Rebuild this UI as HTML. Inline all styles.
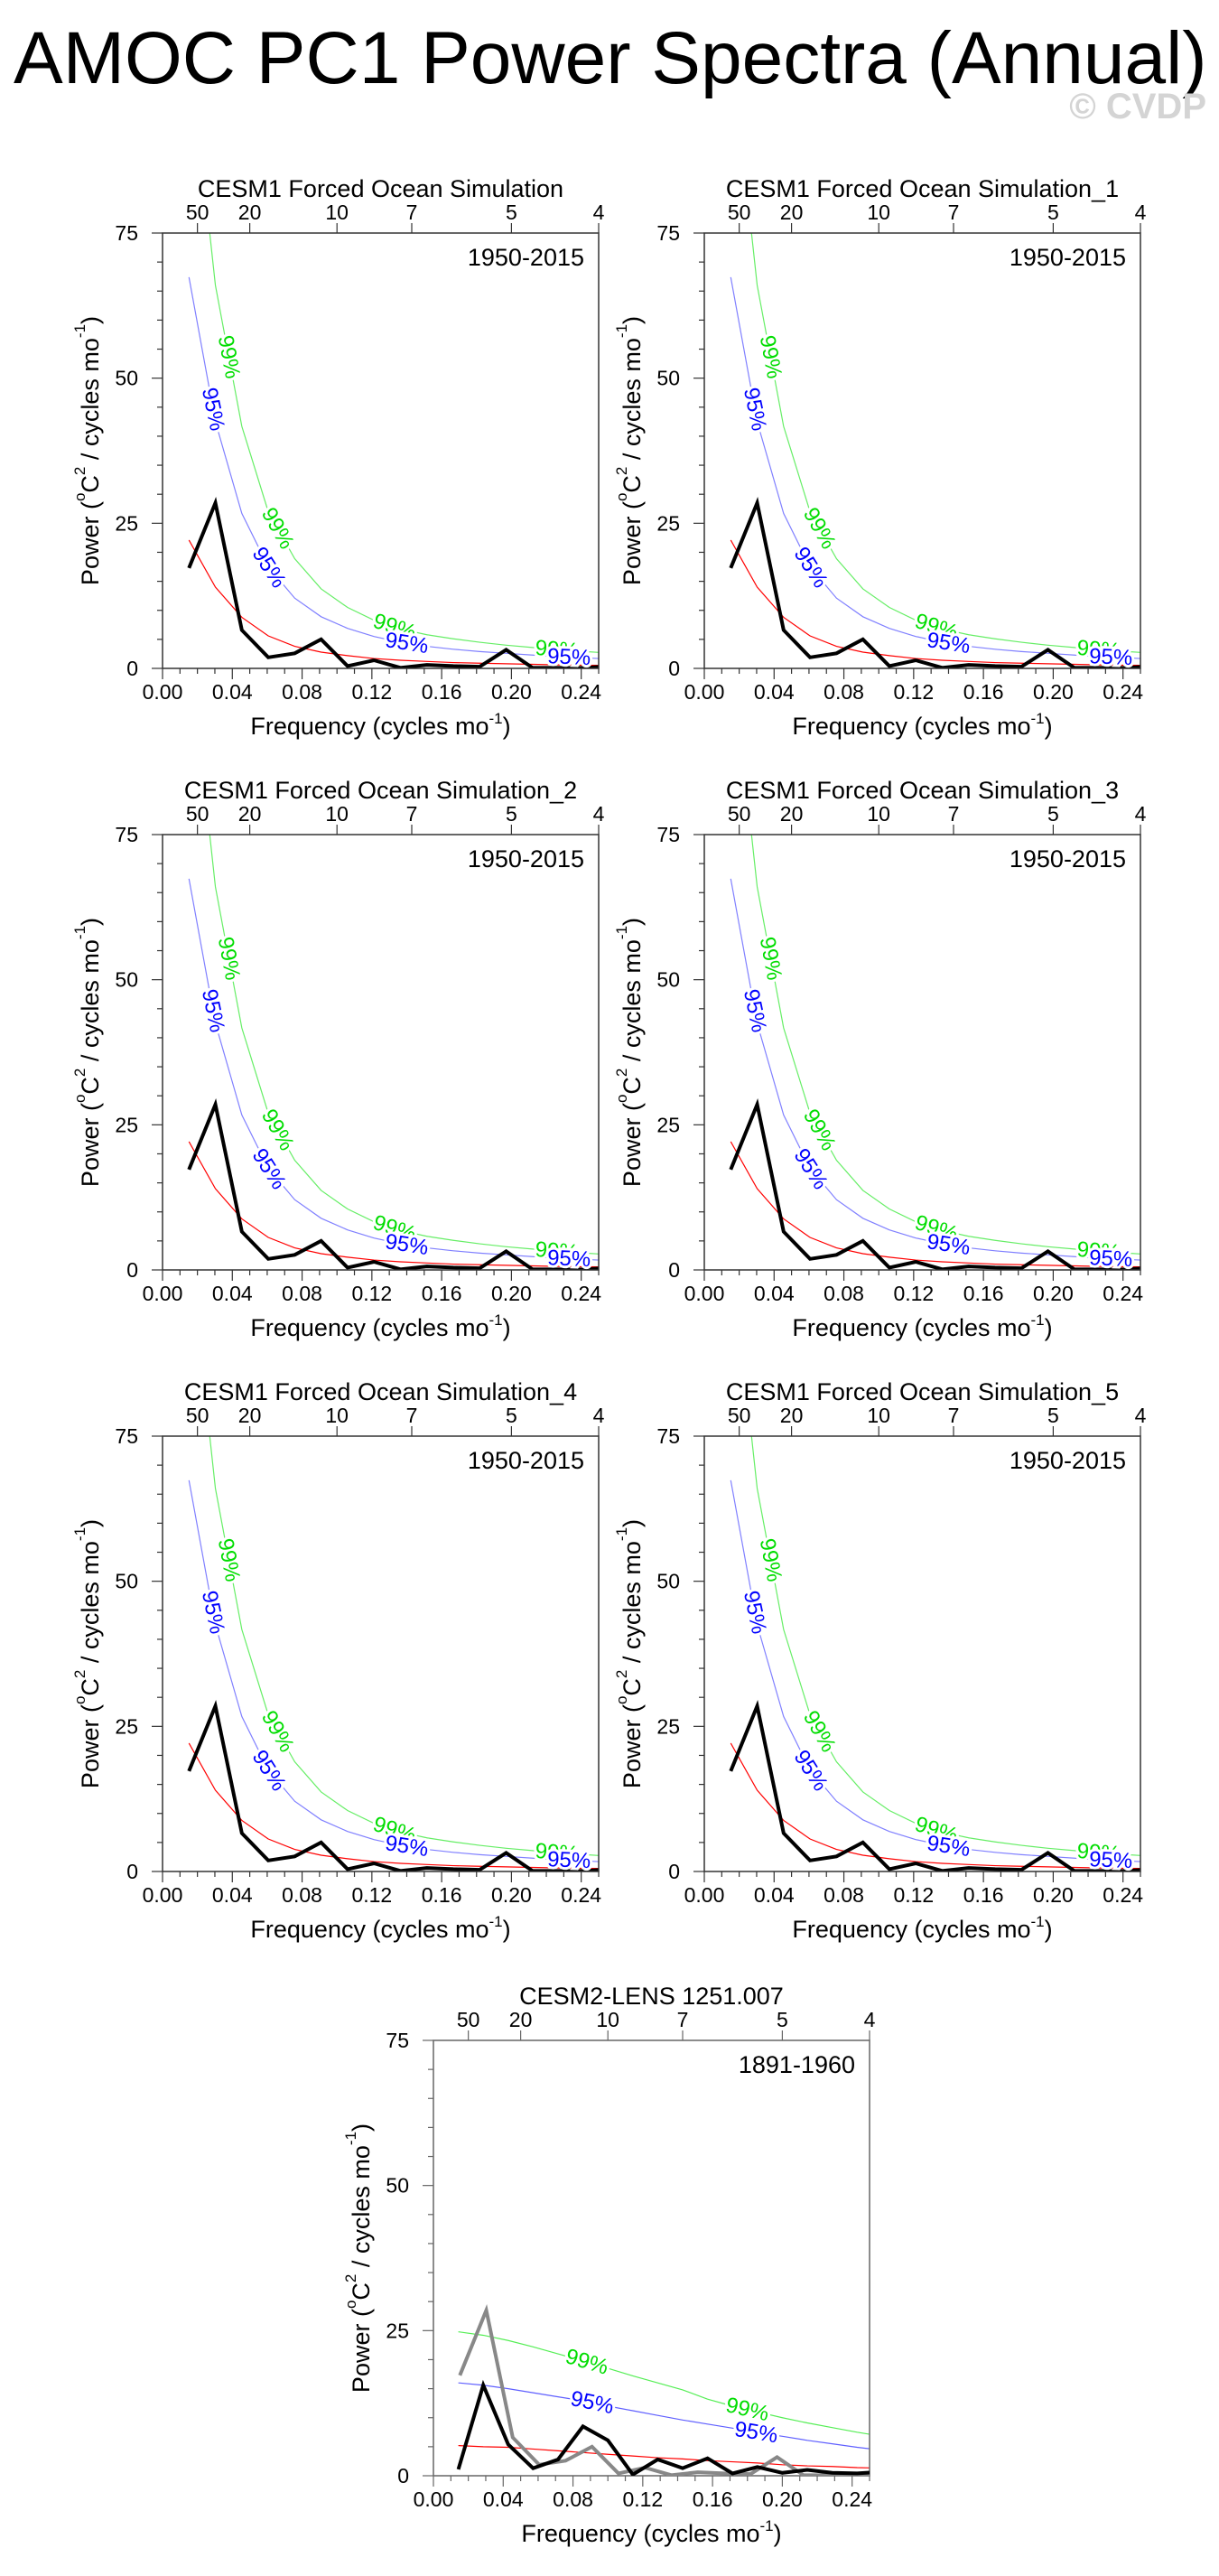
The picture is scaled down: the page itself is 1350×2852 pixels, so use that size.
<!DOCTYPE html>
<html><head><meta charset="utf-8"><style>
html,body{margin:0;padding:0;background:#fff;}
svg{display:block;font-family:"Liberation Sans",Arial,sans-serif;}
</style></head><body>
<svg id="root" width="1350" height="2852" viewBox="0 0 1350 2852">
<text x="15" y="92" font-size="82" fill="#000">AMOC PC1 Power Spectra (Annual)</text>
<text x="1336" y="131" font-size="40" font-weight="bold" fill="#d4d4d4" text-anchor="end">© CVDP</text>
</svg>
<script>
// ---- data ----
const obsFreq = [0.01515,0.0303,0.04545,0.0606,0.07576,0.0909,0.10606,0.12121,0.13636,0.15152,0.16667,0.18182,0.19697,0.21212,0.22727,0.24242,0.25758];
const obsPower = [17.3,28.5,6.6,1.9,2.6,5.0,0.4,1.4,0.1,0.6,0.4,0.3,3.2,0.1,0.1,0.1,0.4];
const obsRed = [22.1,14.0,8.8,5.6,3.8,2.8,2.2,1.7,1.4,1.2,1.0,0.9,0.8,0.7,0.6,0.55,0.5];
const obs95 = [67.4,42.5,26.7,17.5,12.1,8.9,6.9,5.5,4.5,3.8,3.3,2.9,2.6,2.3,2.0,1.8,1.6];
const obs99 = [108,66,41.7,27,18.9,13.7,10.5,8.3,6.8,5.8,5.1,4.5,4.0,3.6,3.2,2.9,2.6];
const lensFreq = [0.01429,0.02857,0.04286,0.05714,0.07143,0.08571,0.1,0.11429,0.12857,0.14286,0.15714,0.17143,0.18571,0.2,0.21429,0.22857,0.24286,0.25714];
const lensPower = [1.1,15.6,5.4,1.3,2.8,8.5,6.1,0.2,2.8,1.3,3.0,0.4,1.5,0.5,1.0,0.5,0.4,0.7];
const lensRed = [5.2,5.0,4.9,4.6,4.3,4.0,3.7,3.4,3.1,2.9,2.6,2.4,2.2,1.9,1.7,1.6,1.4,1.3];
const lens95 = [16.0,15.6,15.0,14.3,13.6,12.9,12.0,11.2,10.4,9.6,8.9,8.2,7.4,6.8,6.1,5.5,4.9,4.4];
const lens99 = [24.8,24.2,23.3,22.2,21.0,19.8,18.5,17.2,16.0,14.8,13.2,12.0,11.0,10.0,9.1,8.3,7.5,6.8];
const xTicks = [0,0.04,0.08,0.12,0.16,0.20,0.24];
const xTickLabels = ["0.00","0.04","0.08","0.12","0.16","0.20","0.24"];
const yTicks = [0,25,50,75];
const yTickLabels = ["0","25","50","75"];
const periods = [50,20,10,7,5,4];
const panelTitles = ["CESM1 Forced Ocean Simulation","CESM1 Forced Ocean Simulation_1","CESM1 Forced Ocean Simulation_2","CESM1 Forced Ocean Simulation_3","CESM1 Forced Ocean Simulation_4","CESM1 Forced Ocean Simulation_5","CESM2-LENS 1251.007"];
const panelYears = ["1950-2015","1950-2015","1950-2015","1950-2015","1950-2015","1950-2015","1891-1960"];
const obsLabelFreqs99 = [0.038,0.066,0.133,0.226];
const obsLabelFreqs95 = [0.029,0.061,0.140,0.233];
const lensLabelFreqs99 = [0.088,0.180];
const lensLabelFreqs95 = [0.091,0.185];

const NS = "http://www.w3.org/2000/svg";
const root = document.getElementById('root');
const W = 483, H = 482, XMAX = 0.25, YMAX = 75;
function mk(tag, attrs, parent){const e=document.createElementNS(NS,tag);for(const k in attrs)e.setAttribute(k,attrs[k]);(parent||root).appendChild(e);return e;}
function interp(fr, vals, f){for(let i=0;i<fr.length-1;i++){if(f>=fr[i]&&f<=fr[i+1]){const t=(f-fr[i])/(fr[i+1]-fr[i]);return vals[i]+t*(vals[i+1]-vals[i]);}}return vals[0];}

function drawPanel(idx, L, T, freq, series, labels, axisColor){
  const g = mk('g',{});
  
  
  const sx = f => L + f/XMAX*W;
  const sy = v => T + H - v/YMAX*H;
  const clipId='clip'+idx;
  const cp = mk('clipPath',{id:clipId},g); mk('rect',{x:L,y:T,width:W,height:H},cp);
  const tt = mk('text',{x:L+W/2,y:T-40,'font-size':27,'text-anchor':'middle',fill:'#000'},g);
  tt.textContent = panelTitles[idx];
  
  
  const cg = mk('g',{'clip-path':'url(#'+clipId+')'},g);
  series.forEach(s=>{
    let d=''; s.vals.forEach((v,i)=>{d+=(i?'L':'M')+sx(freq[i]).toFixed(2)+','+sy(v).toFixed(2);});
    const p = mk('path',{d:d,fill:'none',stroke:s.color,'stroke-width':s.w,'stroke-linejoin':'miter'},cg);
    
    
  });
  labels.forEach(lb=>{
    const v = interp(freq, lb.vals, lb.f);
    const df = 0.004;
    const x1=sx(lb.f-df), y1=sy(interp(freq,lb.vals,lb.f-df)), x2=sx(lb.f+df), y2=sy(interp(freq,lb.vals,lb.f+df));
    const ang = Math.atan2(y2-y1,x2-x1)*180/Math.PI;
    const x=sx(lb.f), y=sy(v);
    const t = mk('text',{x:x,y:y,'font-size':24,'text-anchor':'middle','dominant-baseline':'central',fill:lb.color,stroke:'#fff','stroke-width':6,'paint-order':'stroke',transform:'rotate('+ang.toFixed(1)+' '+x.toFixed(1)+' '+y.toFixed(1)+')'},g);
    t.textContent = lb.text;
    
    
  });
  const fr = mk('rect',{x:L,y:T,width:W,height:H,fill:'none',stroke:axisColor,'stroke-width':1.5},g);
  
  
  for(let m=0;m<=25;m++){const f=m/100;const isMaj=(m%4===0);mk('line',{x1:sx(f),x2:sx(f),y1:T+H,y2:T+H+(isMaj?12:6),stroke:axisColor,'stroke-width':1.2},g);}
  xTicks.forEach((f,i)=>{const t=mk('text',{x:sx(f),y:T+H+34,'font-size':23,'text-anchor':'middle',fill:'#000'},g);t.textContent=xTickLabels[i];});
  for(let v=0;v<=75;v+=5){const isMaj=(v%25===0);mk('line',{x1:L-(isMaj?12:6),x2:L,y1:sy(v),y2:sy(v),stroke:axisColor,'stroke-width':1.2},g);}
  yTicks.forEach((v,i)=>{const t=mk('text',{x:L-27,y:sy(v)+8,'font-size':23,'text-anchor':'end',fill:'#000'},g);t.textContent=yTickLabels[i];});
  periods.forEach(p=>{const f=1/p;mk('line',{x1:sx(f),x2:sx(f),y1:T,y2:T-11,stroke:axisColor,'stroke-width':1.2},g);
    const t=mk('text',{x:sx(f),y:T-15,'font-size':23,'text-anchor':'middle',fill:'#000'},g);t.textContent=String(p);});
  const yr=mk('text',{x:L+467,y:T+36,'font-size':27,'text-anchor':'end',fill:'#000'},g);yr.textContent=panelYears[idx];
  
  
  const xt=mk('text',{x:L+W/2,y:T+H+73,'font-size':27,'text-anchor':'middle',fill:'#000'},g);
  xt.innerHTML='Frequency (cycles mo<tspan font-size="17" dy="-12">-1</tspan><tspan dy="12">)</tspan>';
  
  
  const cx=L-80, cy=T+H/2;
  const yt=mk('text',{x:cx,y:cy,'font-size':27,'text-anchor':'middle','dominant-baseline':'central',fill:'#000',transform:'rotate(-90 '+cx+' '+cy+')'},g);
  yt.innerHTML='Power (<tspan font-size="17" dy="-12">o</tspan><tspan dy="12">C</tspan><tspan font-size="17" dy="-12">2</tspan><tspan dy="12"> / cycles mo</tspan><tspan font-size="17" dy="-12">-1</tspan><tspan dy="12">)</tspan>';
  
  
}

const obsSeries = [
  {name:'red-noise-line',vals:obsRed,color:'#ff0000',w:1.2},
  {name:'95-percent-line',vals:obs95,color:'#8080ff',w:1.2},
  {name:'99-percent-line',vals:obs99,color:'#66ee66',w:1.2},
  {name:'power-spectrum-line',vals:obsPower,color:'#000',w:4}
];
const obsLabels = [];
obsLabelFreqs99.forEach(f=>obsLabels.push({f:f,vals:obs99,text:'99%',color:'#00dd00'}));
obsLabelFreqs95.forEach(f=>obsLabels.push({f:f,vals:obs95,text:'95%',color:'#0000ff'}));
const positions = [[180,258],[780,258],[180,924],[780,924],[180,1590],[780,1590]];
positions.forEach((p,i)=>drawPanel(i,p[0],p[1],obsFreq,obsSeries,obsLabels,'#333'));

(function(){
  const L=480,T=2259;
  const lensSeries=[
    {name:'red-noise-line',vals:lensRed,color:'#ff0000',w:1.2},
    {name:'95-percent-line',vals:lens95,color:'#6060ff',w:1.2},
    {name:'99-percent-line',vals:lens99,color:'#55ee55',w:1.2}
  ];
  const lensLabels=[];
  lensLabelFreqs99.forEach(f=>lensLabels.push({f:f,vals:lens99,text:'99%',color:'#00dd00'}));
  lensLabelFreqs95.forEach(f=>lensLabels.push({f:f,vals:lens95,text:'95%',color:'#0000ff'}));
  drawPanel(6,L,T,lensFreq,lensSeries,lensLabels,'#666');
  const sx=f=>L+f/XMAX*W, sy=v=>T+H-v/YMAX*H;
  let d='';obsPower.forEach((v,i)=>{d+=(i?'L':'M')+sx(obsFreq[i]).toFixed(2)+','+sy(v).toFixed(2);});
  const gp=mk('path',{d:d,fill:'none',stroke:'#888','stroke-width':4,'clip-path':'url(#clip6)'});
  
  
  let d2='';lensPower.forEach((v,i)=>{d2+=(i?'L':'M')+sx(lensFreq[i]).toFixed(2)+','+sy(v).toFixed(2);});
  const bp=mk('path',{d:d2,fill:'none',stroke:'#000','stroke-width':4,'clip-path':'url(#clip6)'});
  
  
})();
</script>
</body></html>
